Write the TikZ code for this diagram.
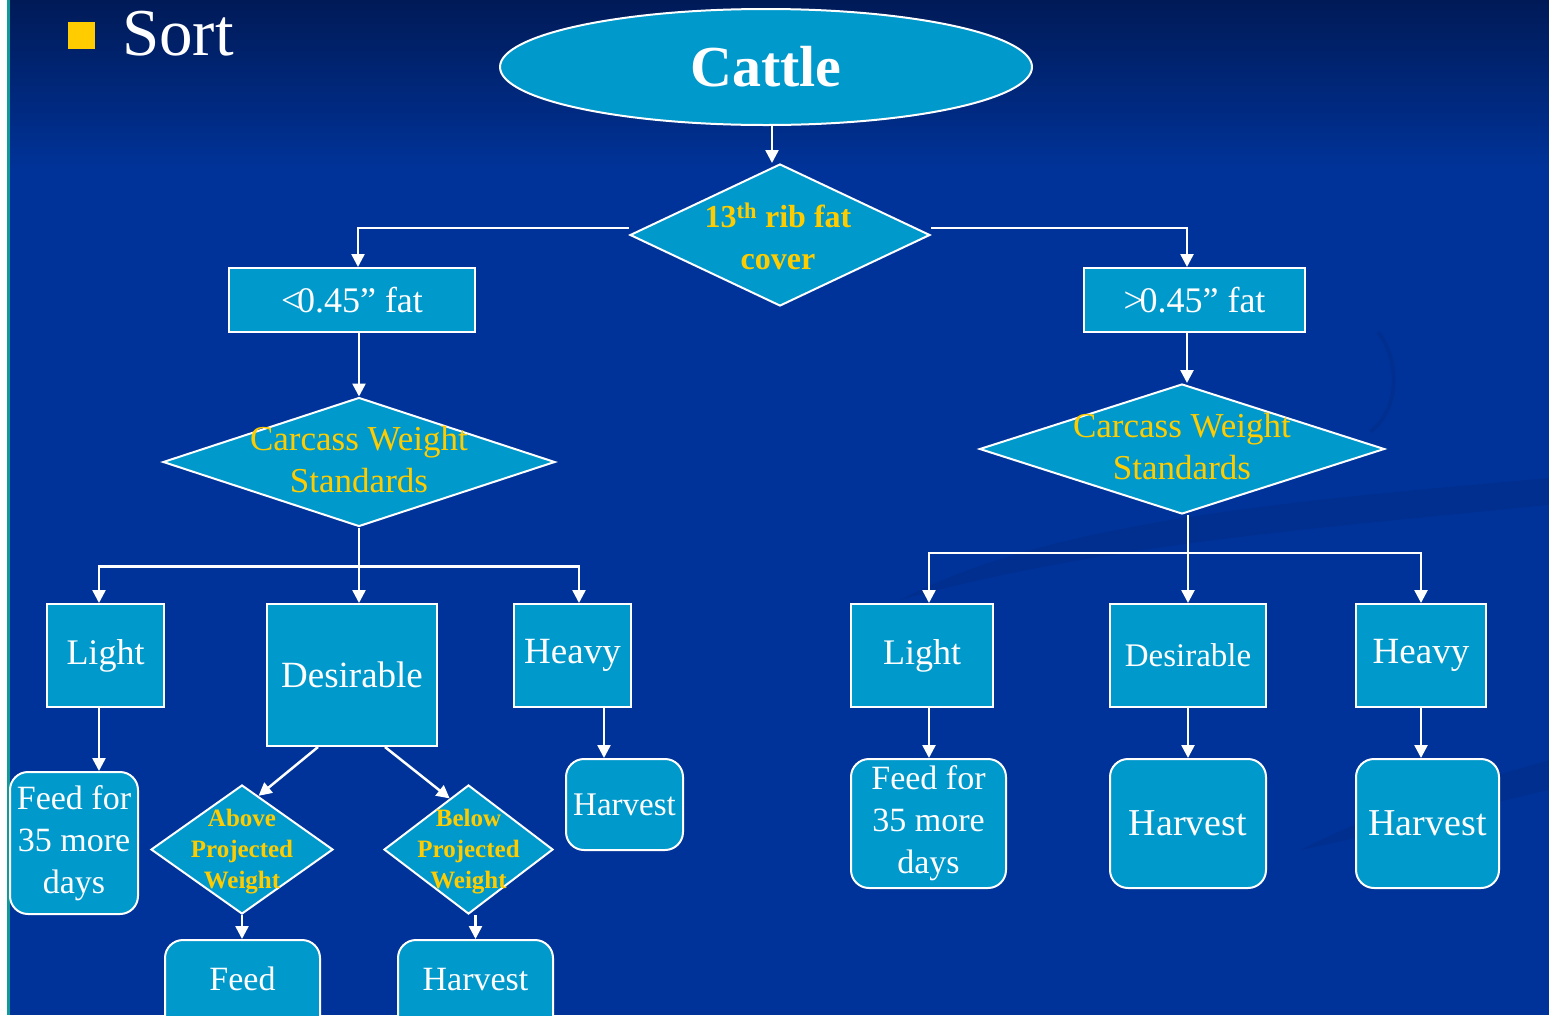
\documentclass[tikz,border=0pt]{standalone}
\usepackage{fontspec}
\setmainfont{Liberation Serif}
\usetikzlibrary{shapes.geometric,arrows.meta,calc}
\definecolor{bgblue}{HTML}{003399}
\definecolor{bgtop}{HTML}{001A57}
\definecolor{boxc}{HTML}{0099CC}
\definecolor{yel}{HTML}{FFCC00}
\definecolor{swoosh}{HTML}{002C88}
\definecolor{tealline}{HTML}{129A9A}
\begin{document}
\begin{tikzpicture}[x=1pt,y=-1pt,
 fs/.style={font=\fontsize{#1}{42}\selectfont},
 rbox/.style={rectangle,draw=white,line width=2pt,fill=boxc,text=white,inner sep=0pt,align=center},
 rrbox/.style={rbox,rounded corners=18pt},
 dia/.style={diamond,draw=white,line width=2pt,fill=boxc,inner sep=0pt},
 ytext/.style={text=yel,align=center},
 arr/.style={draw=white,line width=2.5pt,-{Triangle[length=13pt,width=13pt]}},
 ln/.style={draw=white,line width=2.5pt},
]
\useasboundingbox (0,0) rectangle (1549,1015);
% background
\fill[bgblue] (0,0) rectangle (1549,1015);
\shade[top color=bgtop,bottom color=bgblue] (0,0) rectangle (1549,170);
\fill[swoosh,opacity=0.5] (900,600) .. controls (1050,520) and (1300,500) .. (1549,478) -- (1549,505) .. controls (1300,530) and (1100,545) .. (900,600) -- cycle;
\fill[swoosh,opacity=0.5] (1300,850) .. controls (1400,800) and (1480,780) .. (1549,760) -- (1549,790) .. controls (1480,805) and (1400,830) .. (1300,850) -- cycle;
\draw[swoosh,line width=4pt,opacity=0.5] (1378,332) .. controls (1400,360) and (1400,410) .. (1370,432);
\fill[white] (0,0) rectangle (7,1015);
\fill[tealline] (7,0) rectangle (9.5,1015);

% title
\fill[yel] (68,22) rectangle (95,49);
\node[anchor=base west,text=white,fs=67,inner sep=0pt] (sort) at (122,55) {Sort};

% top
\node[ellipse,draw=white,line width=2pt,fill=boxc,minimum width=532pt,minimum height=116pt,inner sep=0pt,text=white,font=\fontsize{58}{60}\selectfont\bfseries] (cattle) at (766,67) {Cattle};
\node[dia,minimum width=300pt,minimum height=142pt] (d0) at (780,235) {};
\node[ytext,font=\fontsize{32}{42}\selectfont\bfseries] (d0t) at (778,236) {13\textsuperscript{th} rib fat\\cover};

\node[rbox,fs=36,minimum width=246pt,minimum height=64pt] (lt) at (352,300) {<\kern-0.12em0.45” fat};
\node[rbox,fs=36,minimum width=221pt,minimum height=64pt] (gt) at (1194.5,300) {>\kern-0.12em0.45” fat};

\node[dia,minimum width=392pt,minimum height=129pt] (cwL) at (359,462) {};
\node[ytext,font=\fontsize{35}{42}\selectfont] (cwLt) at (359,460) {Carcass Weight\\Standards};
\node[dia,minimum width=405pt,minimum height=130pt] (cwR) at (1182,449) {};
\node[ytext,font=\fontsize{35}{42}\selectfont] (cwRt) at (1182,447) {Carcass Weight\\Standards};

% left level 3
\node[rbox,fs=36,minimum width=117pt,minimum height=103pt] (lightL) at (105.5,655.5) {Light};
\node[rbox,fs=37,minimum width=170pt,minimum height=142pt] (desL) at (352,675) {Desirable};
\node[rbox,fs=37,minimum width=117pt,minimum height=103pt] (heavyL) at (572.5,655.5) {Heavy};

% right level 3
\node[rbox,fs=36,minimum width=142pt,minimum height=103pt] (lightR) at (922,655.5) {Light};
\node[rbox,fs=33,minimum width=156pt,minimum height=103pt] (desR) at (1188,655.5) {Desirable};
\node[rbox,fs=37,minimum width=130pt,minimum height=103pt] (heavyR) at (1421,655.5) {Heavy};

% left level 4
\node[rrbox,fs=34,minimum width=128pt,minimum height=142pt] (feedL) at (74,843) {Feed for\\35 more\\days};
\node[rrbox,fs=33,minimum width=117pt,minimum height=91pt] (harvH) at (624.5,804.5) {Harvest};
\node[dia,minimum width=182pt,minimum height=129pt] (aboveD) at (242,849.5) {};
\node[ytext,font=\fontsize{25}{31}\selectfont\bfseries] (aboveT) at (242,852) {Above\\Projected\\Weight};
\node[dia,minimum width=169pt,minimum height=129pt] (belowD) at (468.5,849.5) {};
\node[ytext,font=\fontsize{25}{31}\selectfont\bfseries] (belowT) at (468.5,852) {Below\\Projected\\Weight};
\node[rrbox,fs=34,minimum width=155pt,minimum height=100pt,text height=25pt,text depth=25pt] (feedA) at (242.5,990) {Feed};
\node[rrbox,fs=34,minimum width=155pt,minimum height=100pt,text height=25pt,text depth=25pt] (harvB) at (475.5,990) {Harvest};

% right level 4
\node[rrbox,fs=34,minimum width=155pt,minimum height=129pt] (feedR) at (928.5,823.5) {Feed for\\35 more\\days};
\node[rrbox,fs=38,minimum width=156pt,minimum height=129pt] (harvR1) at (1188,823.5) {Harvest};
\node[rrbox,fs=38,minimum width=143pt,minimum height=129pt] (harvR2) at (1427.5,823.5) {Harvest};

% connectors top
\draw[arr] ([xshift=-8pt]d0.north |- cattle.south) -- ([xshift=-8pt]d0.north);
\draw[arr] ([yshift=7pt]d0.west) -| ([xshift=6pt]lt.north);
\draw[arr] ([yshift=7pt]d0.east) -| ([xshift=-7.5pt]gt.north);
\draw[arr] (cwL.north |- lt.south) -- (cwL.north);
\draw[arr] ([xshift=5pt]cwR.north |- gt.south) -- ([xshift=5pt]cwR.north);

% left tree
\draw[ln] (cwL.south) -- ++(0,39) coordinate (jL);
\draw[arr] (jL) -| ([xshift=-6.5pt]lightL.north);
\draw[arr] (jL) -| ([xshift=6.5pt]heavyL.north);
\draw[arr] (jL) -- (jL |- desL.north);

% right tree
\draw[ln] (desR.north |- cwR.south) -- ++(0,38) coordinate (jR);
\draw[arr] (jR) -| ([xshift=7pt]lightR.north);
\draw[arr] (jR) -| (heavyR.north);
\draw[arr] (jR) -- (desR.north);

% left level 4 connectors
\draw[arr] ([xshift=-6.5pt]lightL.south) -- ([xshift=-6.5pt]lightL.south |- feedL.north);
\draw[arr] ([xshift=31.5pt]heavyL.south) -- ([xshift=31.5pt]heavyL.south |- harvH.north);
\draw[arr] ([xshift=-34pt]desL.south) -- ($(aboveD.north)!0.18!(aboveD.east)$);
\draw[arr] ([xshift=33pt]desL.south) -- ($(belowD.north)!0.22!(belowD.west)$);
\draw[arr] (aboveD.south) -- (aboveD.south |- feedA.north);
\draw[arr] (harvB.north |- belowD.south) -- (harvB.north);

% right level 4 connectors
\draw[arr] ([xshift=7pt]lightR.south) -- ([xshift=7pt]lightR.south |- feedR.north);
\draw[arr] (desR.south) -- (harvR1.north);
\draw[arr] (heavyR.south) -- (heavyR.south |- harvR2.north);
\end{tikzpicture}
\end{document}
